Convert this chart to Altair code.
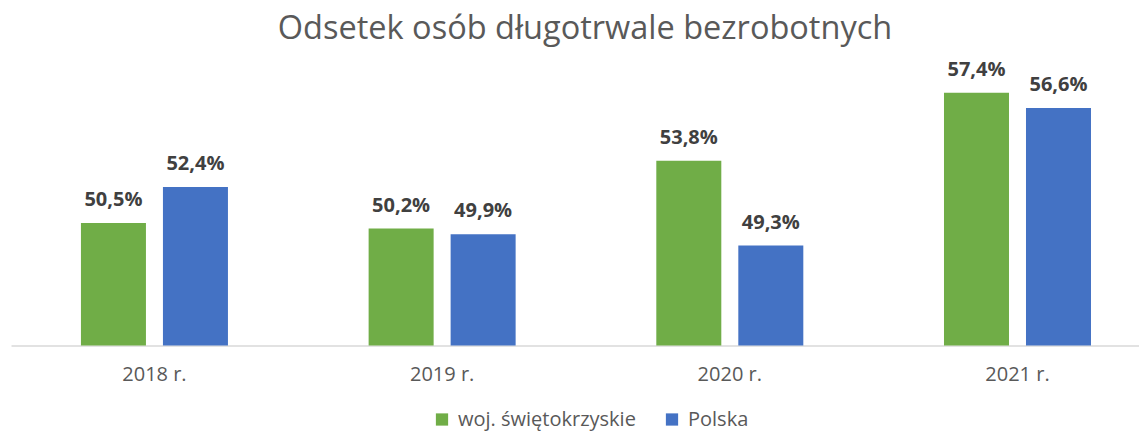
import altair as alt
import pandas as pd

years = ["2018 r.", "2019 r.", "2020 r.", "2021 r."]
series = ["woj. świętokrzyskie", "Polska"]
swietokrzyskie = [50.5, 50.2, 53.8, 57.4]
polska = [52.4, 49.9, 49.3, 56.6]
colors = ["#70AD47", "#4472C4"]

rows = []
for i, yr in enumerate(years):
    for s, vals in zip(series, [swietokrzyskie, polska]):
        v = vals[i]
        rows.append({"rok": yr, "seria": s, "wartosc": v,
                     "etykieta": f"{v:.1f}%".replace(".", ",")})
df = pd.DataFrame(rows)

FONT = "Open Sans"

base = alt.Chart(df).encode(
    x=alt.X("rok:N", sort=years,
            scale=alt.Scale(paddingInner=0.489, paddingOuter=0.205, align=0.593),
            axis=alt.Axis(title=None, labelAngle=0, ticks=False, grid=False,
                          domainColor="#D9D9D9", domainWidth=1.5,
                          labelFont=FONT, labelFontSize=20, labelColor="#595959",
                          labelPadding=19)),
    xOffset=alt.XOffset("seria:N", sort=series,
                        scale=alt.Scale(paddingInner=0.2073, paddingOuter=0)),
    y=alt.Y("wartosc:Q", scale=alt.Scale(domain=[44, 58], zero=False, nice=False),
            axis=None),
)

bars = base.mark_bar(clip=True).encode(
    color=alt.Color("seria:N", sort=series,
                    scale=alt.Scale(domain=series, range=colors),
                    legend=alt.Legend(title=None, orient="none", direction="horizontal",
                                      legendX=421, legendY=328,
                                      symbolType="square", symbolSize=150,
                                      symbolStrokeWidth=0, labelFont=FONT,
                                      labelFontSize=20, labelColor="#595959",
                                      labelOffset=6, columnPadding=26,
                                      labelLimit=400)),
)

labels = base.mark_text(font=FONT, fontSize=20, fontWeight="bold", color="#404040",
                        baseline="alphabetic", dy=-17).encode(text="etykieta:N")

chart = alt.layer(bars, labels).properties(
    width=1128, height=264,
    padding={"left": 3, "top": 73.5, "right": 0, "bottom": 85.5},
    autosize=alt.AutoSizeParams(type="none"),
    title=alt.TitleParams("Odsetek osób długotrwale bezrobotnych", font=FONT,
                          fontSize=32.5, fontWeight="normal", color="#595959",
                          anchor="middle", dx=10, dy=-10),
).configure_view(stroke=None)

chart.save("out.html", embed_options={"renderer": "svg", "actions": False})
